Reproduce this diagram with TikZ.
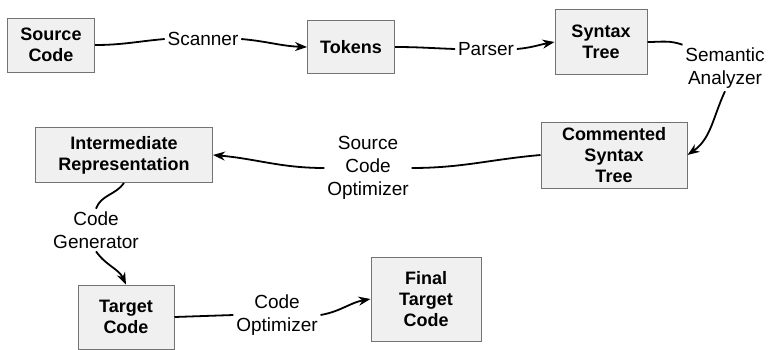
\documentclass[tikz,border=0pt]{standalone}
\usepackage{fontspec}
\setmainfont{Liberation Sans}
\usepackage{tikz}
\usetikzlibrary{arrows.meta}

\tikzset{
  phase/.style={draw=black!55, fill=black!6, line width=0.5pt, align=center, inner sep=0pt,
    font=\bfseries\fontsize{9}{10.5}\selectfont},
  lbl/.style={align=center, inner sep=1pt, font=\fontsize{9.5}{11.5}\selectfont},
}

\begin{document}
\begin{tikzpicture}[x=0.5pt, y=-0.5pt, >={Stealth[length=6pt,width=4.5pt]}, line width=0.9pt]
\useasboundingbox (0,0) rectangle (775,349);

%phases
\node[phase, minimum width=43.5pt, minimum height=27pt] (src) at (51,45) {Source\\Code};
\node[phase, minimum width=43.5pt, minimum height=26.5pt] (tok) at (351,47) {Tokens};
\node[phase, minimum width=46pt, minimum height=32.5pt] (syn) at (601,42) {Syntax\\Tree};
\node[phase, minimum width=73pt, minimum height=33pt] (com) at (614,155) {Commented\\Syntax\\Tree};
\node[phase, minimum width=88.5pt, minimum height=27.5pt] (ir) at (124,155) {Intermediate\\Representation};
\node[phase, minimum width=48pt, minimum height=32pt] (tgt) at (126,317) {Target\\Code};
\node[phase, minimum width=55pt, minimum height=42pt] (fin) at (426,299) {Final\\Target\\Code};

%tools
\node[lbl] (scan) at (203,39) {Scanner};
\node[lbl] (pars) at (486,49) {Parser};
\node[lbl] (sem) at (725,68) {Semantic\\Analyzer};
\node[lbl] (sopt) at (368,168) {Source\\Code\\Optimizer};
\node[lbl] (gen) at (96,230) {Code\\Generator};
\node[lbl] (copt) at (277,315) {Code\\Optimizer};

%connectors
\draw (src.east) to[out=0,in=185] (scan.west);
\draw[->] (scan.east) to[out=-5,in=178] (tok.west);
\draw (tok.east) to[out=0,in=178] (pars.west);
\draw[->] (pars.east) to[out=5,in=190] (syn.west);
\draw (syn.east) to[out=0,in=160] (sem.north west);
\draw[->] (sem.south) to[out=-115,in=35] (com.east);
\draw (com.west) to[out=185,in=0] (sopt.east);
\draw[->] (sopt.west) to[out=180,in=-5] (ir.east);
\draw (ir.south) to[out=-125,in=70] (gen.north);
\draw[->] (gen.south) to[out=-55,in=115] (tgt.north);
\draw (tgt.east) -- (copt.west);
\draw[->] (copt.east) to[out=10,in=190] (fin.west);

\end{tikzpicture}
\end{document}
